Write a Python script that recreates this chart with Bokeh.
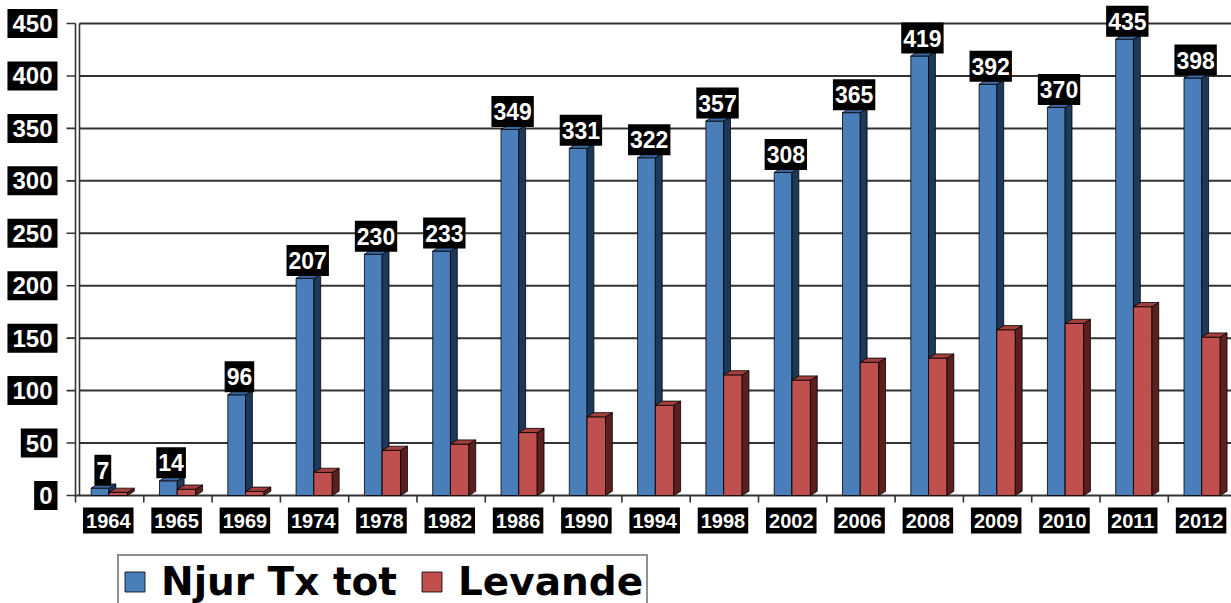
import numpy as np
from bokeh.plotting import figure
from bokeh.models import Range1d, Label, Legend, LegendItem
from bokeh.embed import file_html
from bokeh.resources import INLINE

# ---- data ----
years = ["1964", "1965", "1969", "1974", "1978", "1982", "1986", "1990", "1994",
         "1998", "2002", "2006", "2008", "2009", "2010", "2011", "2012"]
njur_tx_tot = [7, 14, 96, 207, 230, 233, 349, 331, 322, 357, 308, 365, 419, 392, 370, 435, 398]
levande = [3, 6, 4, 22, 43, 49, 60, 75, 86, 115, 110, 127, 131, 158, 164, 180, 151]
y_ticks = [0, 50, 100, 150, 200, 250, 300, 350, 400, 450]
series_names = ["Njur Tx tot", "Levande"]

LFONT = "DejaVu Sans"
BFONT = "Liberation Sans"
W, H = 1231, 603
X0, Y0 = 75, 495          # pixel position of the data origin
PXX = 68.3                # pixels per category
PXY = 472 / 450           # pixels per unit

x_range = Range1d(-X0 / PXX, (W - X0) / PXX)
y_range = Range1d(-(H - Y0) / PXY, Y0 / PXY)

p = figure(width=W, height=H, x_range=x_range, y_range=y_range,
           output_backend="svg", toolbar_location=None,
           x_axis_location=None, y_axis_location=None,
           min_border=0)
p.outline_line_color = None
p.background_fill_color = "white"
p.xgrid.visible = False
p.ygrid.visible = False

AXC = "#333333"
n = len(years)
ymax = y_ticks[-1]
wall = 4 / PXX
xend = x_range.end

# gridlines (back wall to right edge)
p.segment(x0=[wall] * (len(y_ticks) - 1), y0=y_ticks[1:], x1=[xend] * (len(y_ticks) - 1),
          y1=y_ticks[1:], line_color="#333333", line_width=2)
# floor line
p.segment(x0=[0], y0=[0], x1=[xend], y1=[0], line_color=AXC, line_width=2.2)
# vertical axis (double line)
p.segment(x0=[0, wall], y0=[0, 0], x1=[0, wall], y1=[ymax, ymax], line_color=AXC, line_width=1.6)
# y ticks
p.segment(x0=[-9 / PXX] * len(y_ticks), y0=y_ticks, x1=[0] * len(y_ticks), y1=y_ticks,
          line_color=AXC, line_width=1.6)
# x ticks at category boundaries
bounds = list(range(n))
p.segment(x0=bounds, y0=[0] * n, x1=bounds, y1=[-7 / PXY] * n, line_color=AXC, line_width=1.6)

idx = np.arange(n)
DX, DY = 0.1, 4.0


def draw3d(left, right, vals, front, side, top):
    r = p.quad(left=left, right=right, bottom=0, top=vals,
               fill_color=front, line_color="black", line_width=0.8)
    xs_side = [[rr, rr + DX, rr + DX, rr] for rr in right]
    ys_side = [[0, DY, v + DY, v] for v in vals]
    p.patches(xs_side, ys_side, fill_color=side, line_color="black", line_width=0.8)
    xs_top = [[ll, ll + DX, rr + DX, rr] for ll, rr in zip(left, right)]
    ys_top = [[v, v + DY, v + DY, v] for v in vals]
    p.patches(xs_top, ys_top, fill_color=top, line_color="black", line_width=0.8)
    return r


rb = draw3d(idx + 0.23, idx + 0.49, njur_tx_tot, "#4a7ebb", "#1d3859", "#3b68a0")
rr = draw3d(idx + 0.49, idx + 0.76, levande, "#c0504d", "#5c1f1e", "#a1403d")

# data labels
for i, v in enumerate(njur_tx_tot):
    p.add_layout(Label(x=i + 0.4, y=v, y_offset=18, text=str(v),
                       text_align="center", text_baseline="middle",
                       text_color="white", text_font=BFONT, text_font_style="bold",
                       text_font_size="23px", background_fill_color="black",
                       padding=(2, 7)))

# category labels
for i, yr in enumerate(years):
    p.add_layout(Label(x=i + 0.48, y=0, y_offset=-25, text=yr,
                       text_align="center", text_baseline="middle",
                       text_color="white", text_font=BFONT, text_font_style="bold",
                       text_font_size="20px", background_fill_color="black",
                       padding=(3, 6)))

# y tick labels
for t in y_ticks:
    p.add_layout(Label(x=0, y=t, x_offset=-18, text=str(t),
                       text_align="right", text_baseline="middle",
                       text_color="white", text_font=BFONT, text_font_style="bold",
                       text_font_size="24px", background_fill_color="black",
                       padding=(5, 6)))

legend = Legend(items=[LegendItem(label=series_names[0], renderers=[rb]),
                       LegendItem(label=series_names[1], renderers=[rr])],
                orientation="horizontal", location=(117, -6),
                label_text_font=LFONT, label_text_font_style="bold",
                label_text_font_size="39px", label_text_color="black",
                glyph_width=25, glyph_height=25, label_standoff=14,
                spacing=22, padding=3, margin=0,
                border_line_color="#222222", border_line_width=2,
                background_fill_color="white", background_fill_alpha=1.0)
p.add_layout(legend)

open("out.html", "w").write(file_html(p, INLINE))
